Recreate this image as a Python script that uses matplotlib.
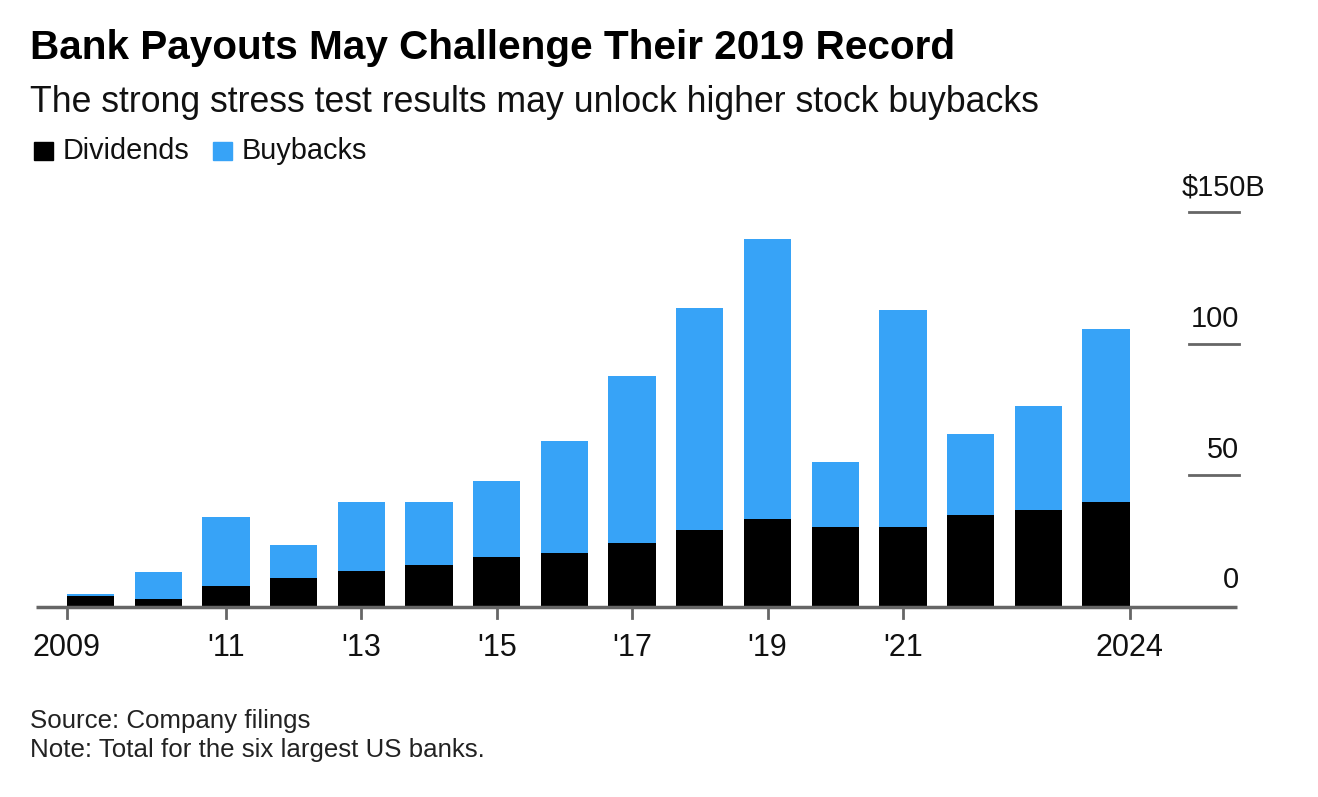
import numpy as np
from matplotlib import pyplot as plt
from matplotlib.patches import Rectangle

years = np.arange(2009, 2025)
totals = [5.1, 13.3, 34.2, 23.4, 40.0, 40.0, 47.7, 62.9, 87.6, 113.7, 139.9, 55.2, 112.7, 65.7, 76.5, 105.6]
dividends = [4.2, 3.0, 8.1, 11.0, 13.5, 15.9, 18.9, 20.5, 24.3, 29.4, 33.4, 30.4, 30.3, 34.8, 37.0, 40.0]
buybacks = [t - d for t, d in zip(totals, dividends)]

tick_years = [2009, 2011, 2013, 2015, 2017, 2019, 2021, 2024]
tick_labels = ["2009", "'11", "'13", "'15", "'17", "'19", "'21", "2024"]
y_ticks = [0, 50, 100, 150]
y_labels = ["0", "50", "100", "$150B"]

BLUE = "#37a3f7"
GRAY = "#666666"
TXT = "#111111"
plt.rcParams['font.family'] = ['Liberation Sans', 'DejaVu Sans']

W, H = 1318, 797
fig = plt.figure(figsize=(W / 100, H / 100), dpi=100)

# axes placed in pixels: baseline y=607, 150 line y=212, x from 36 to 1237
x0, x1, yb, yt = 36, 1237, 607, 212
ax = fig.add_axes([x0 / W, (H - yb) / H, (x1 - x0) / W, (yb - yt) / H])
step = 67.7
c09 = 90.5
ax.set_xlim(2009 + (x0 - c09) / step, 2009 + (x1 - c09) / step)
ax.set_ylim(0, 150)
ax.axis('off')
upx = 150 / (yb - yt)  # data units per pixel in y

bw = 0.7
ax.bar(years, dividends, width=bw, color='black', zorder=2)
ax.bar(years, buybacks, width=bw, bottom=dividends, color=BLUE, zorder=2)

# baseline
ax.plot([0, 1], [0, 0], transform=ax.transAxes, color=GRAY, lw=2.5, zorder=3,
        solid_capstyle='butt', clip_on=False)

# x ticks: first at left edge of first bar, last at right edge of last bar
tick_pos = [float(y) for y in tick_years]
tick_pos[0] -= bw / 2
tick_pos[-1] += bw / 2
for p, lab in zip(tick_pos, tick_labels):
    ax.plot([p, p], [0, -11 * upx], color=GRAY, lw=2, clip_on=False, zorder=3)
    ax.text(p, -(656 - yb) * upx, lab, ha='center', va='baseline', fontsize=22, color=TXT)

# y grid stubs and labels on the right
gx0 = 2009 + (1189 - c09) / step
gx1 = 2009 + (1239 - c09) / step
for v, lab in zip(y_ticks, y_labels):
    if v > 0:
        ax.plot([gx0, gx1], [v, v], color=GRAY, lw=2, clip_on=False)
    lx = 2009 + (1265 - c09) / step if lab.startswith('$') else gx1
    off = 19 if v == 0 else 17
    ax.text(lx, v + off * upx, lab, ha='right', va='baseline', fontsize=20.8, color=TXT)

# titles
fig.text(30 / W, 1 - 59 / H, "Bank Payouts May Challenge Their 2019 Record",
         fontsize=29.2, fontweight='bold', ha='left', va='baseline', color='black')
fig.text(30 / W, 1 - 112 / H, "The strong stress test results may unlock higher stock buybacks",
         fontsize=25.7, ha='left', va='baseline', color=TXT)

# legend
for lx, col, lab in [(34, 'black', 'Dividends'), (213, BLUE, 'Buybacks')]:
    fig.patches.append(Rectangle((lx / W, 1 - 160 / H), 19 / W, 18 / H,
                                 transform=fig.transFigure, color=col))
    fig.text((lx + 29) / W, 1 - 159 / H, lab, fontsize=20.8, ha='left', va='baseline',
             color=TXT)

# footer
fig.text(30 / W, 1 - 728 / H, "Source: Company filings", fontsize=18.6,
         ha='left', va='baseline', color='#222222')
fig.text(30 / W, 1 - 757 / H, "Note: Total for the six largest US banks.", fontsize=18.6,
         ha='left', va='baseline', color='#222222')

fig.savefig("out.png", dpi=100, facecolor='white')
